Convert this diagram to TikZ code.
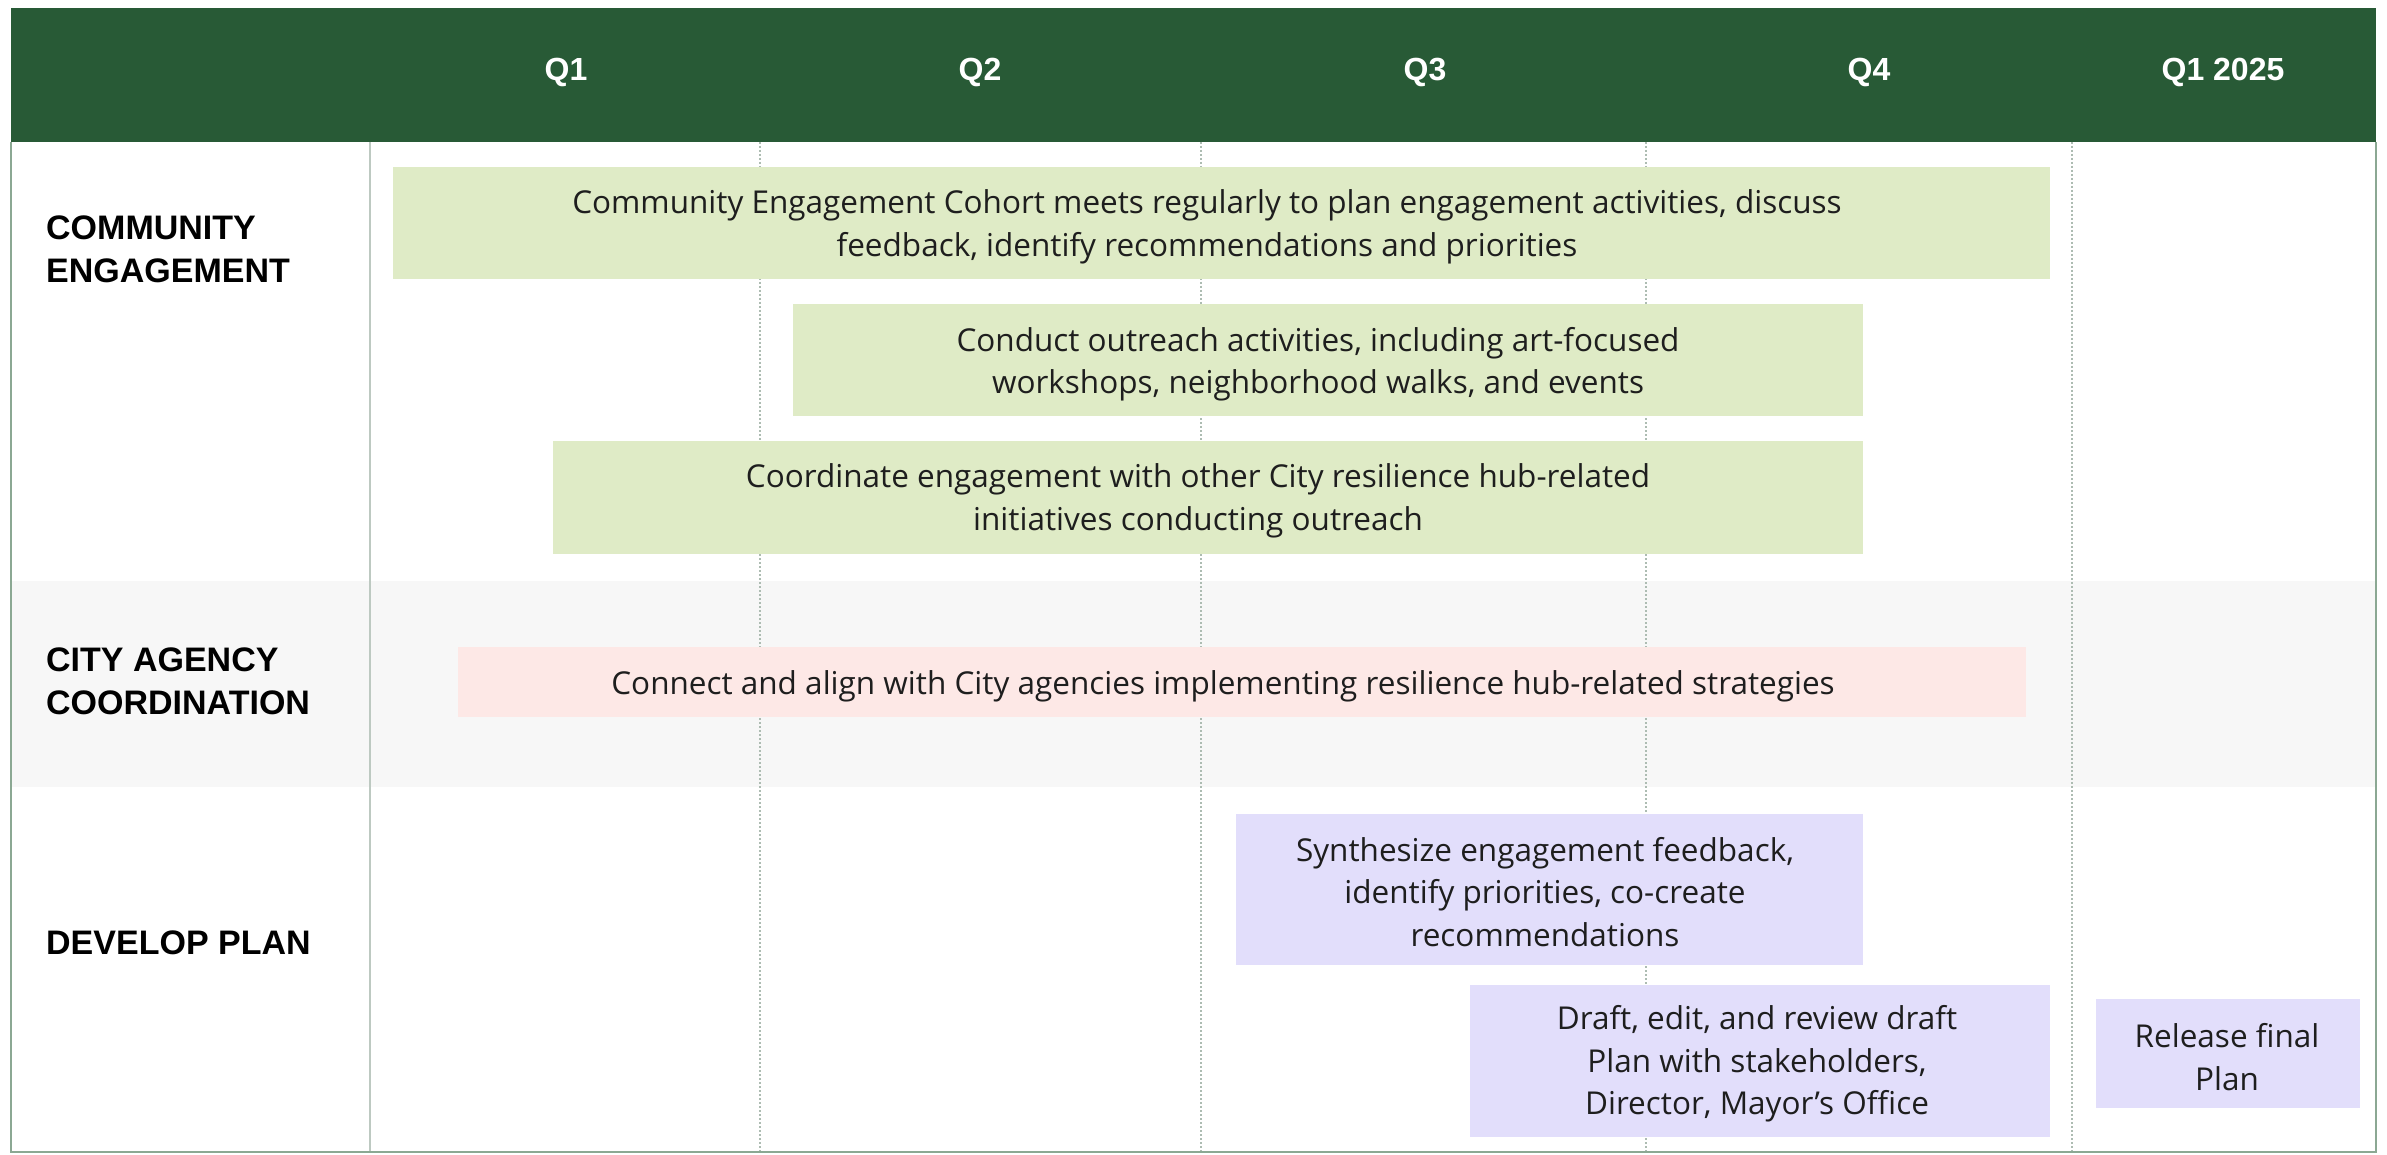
\documentclass[tikz,border=0pt]{standalone}
\usepackage{fontspec}
\setmainfont{Open Sans}
\newfontfamily\hdrfont{Liberation Sans}
\definecolor{hdrgreen}{HTML}{285A36}
\definecolor{cegreen}{HTML}{DFEBC6}
\definecolor{capink}{HTML}{FDE8E6}
\definecolor{dppurple}{HTML}{E2DEFB}
\definecolor{rowgray}{HTML}{F7F7F7}
\definecolor{gridc}{HTML}{ADBCB2}
\definecolor{borderc}{HTML}{8BA893}
\definecolor{txt}{HTML}{1E1E1E}
\begin{document}
\begin{tikzpicture}[x=1pt,y=-1pt,
  boxshape/.style={rectangle, inner sep=0pt},
  tasktext/.style={inner sep=0pt, align=center, text=txt, yshift=-4pt,
    font=\fontsize{31.5}{42.5}\selectfont},
  gbox/.style={boxshape, fill=cegreen},
  pbox/.style={boxshape, fill=capink},
  vbox/.style={boxshape, fill=dppurple},
  qlabel/.style={text=white, font=\hdrfont\bfseries\fontsize{32}{36}\selectfont},
  rowlabel/.style={anchor=west, align=left, text=black, inner sep=0pt,
    font=\hdrfont\bfseries\fontsize{34}{43}\selectfont},
  gridline/.style={gridc, line width=1.5pt, dash pattern=on 2pt off 2pt},
  divline/.style={gridc!80, line width=2pt}
]
\useasboundingbox (0,0) rectangle (2387,1155);
\fill[white] (0,0) rectangle (2387,1155);
% rows
\fill[rowgray] (11,581) rectangle (2376,787);
% header
\fill[hdrgreen] (11,8) rectangle (2376,142);
% grid lines
\coordinate (d0t) at (370,142); \coordinate (d0b) at (370,1152);
\coordinate (d1t) at (760,142); \coordinate (d1b) at (760,1152);
\coordinate (d2t) at (1201,142); \coordinate (d2b) at (1201,1152);
\coordinate (d3t) at (1646,142); \coordinate (d3b) at (1646,1152);
\coordinate (d4t) at (2072,142); \coordinate (d4b) at (2072,1152);
\draw[divline] (d0t) -- (d0b);
\draw[gridline] (d1t) -- (d1b);
\draw[gridline] (d2t) -- (d2b);
\draw[gridline] (d3t) -- (d3b);
\draw[gridline] (d4t) -- (d4b);
% outer border
\draw[borderc, line width=2pt] (11,142) -- (11,1152) -- (2376,1152) -- (2376,142);
% header labels
\node[qlabel] (q1) at (566,72) {Q1};
\node[qlabel] (q2) at (980,72) {Q2};
\node[qlabel] (q3) at (1425,72) {Q3};
\node[qlabel] (q4) at (1869,72) {Q4};
\node[qlabel] (q5) at (2223,72) {Q1 2025};
% row labels
\node[rowlabel] (lce) at (46,249) {COMMUNITY\\ENGAGEMENT};
\node[rowlabel] (lca) at (46,681) {CITY AGENCY\\COORDINATION};
\node[rowlabel] (ldp) at (46,943) {DEVELOP PLAN};
% task boxes
\node[gbox, minimum width=1657pt, minimum height=112pt] (ce1) at (1221,223) {};
\node[tasktext] (ce1t) at (1207,223)
  {Community Engagement Cohort meets regularly to plan engagement activities, discuss\\feedback, identify recommendations and priorities};
\node[gbox, minimum width=1070pt, minimum height=112pt] (ce2) at (1328,360) {};
\node[tasktext] (ce2t) at (1318,360)
  {Conduct outreach activities, including art-focused\\workshops, neighborhood walks, and events};
\node[gbox, minimum width=1310pt, minimum height=113pt] (ce3) at (1208,497) {};
\node[tasktext] (ce3t) at (1198,497)
  {Coordinate engagement with other City resilience hub-related\\initiatives conducting outreach};
\node[pbox, minimum width=1568pt, minimum height=70pt] (ca1) at (1242,682) {};
\node[tasktext] (ca1t) at (1223,682)
  {Connect and align with City agencies implementing resilience hub-related strategies};
\node[vbox, minimum width=627pt, minimum height=151pt] (dp1) at (1549,889) {};
\node[tasktext] (dp1t) at (1545,888)
  {Synthesize engagement feedback,\\identify priorities, co-create\\recommendations};
\node[vbox, minimum width=580pt, minimum height=152pt] (dp2) at (1760,1061) {};
\node[tasktext] (dp2t) at (1757,1060)
  {Draft, edit, and review draft\\Plan with stakeholders,\\Director, Mayor’s Office};
\node[vbox, minimum width=264pt, minimum height=109pt] (dp3) at (2228,1053) {};
\node[tasktext] (dp3t) at (2227,1053)
  {Release final\\Plan};
\end{tikzpicture}
\end{document}
